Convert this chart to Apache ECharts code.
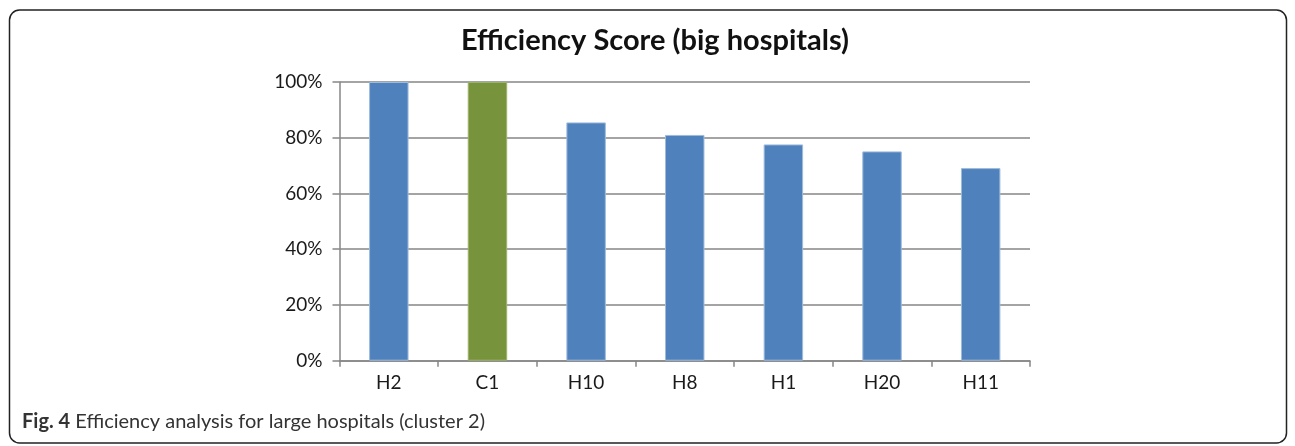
<!DOCTYPE html>
<html>
<head>
<meta charset="utf-8">
<script src="https://cdn.jsdelivr.net/npm/echarts@6/dist/echarts.min.js"></script>
<style>
  html, body { margin: 0; padding: 0; background: #fff; }
  #chart { width: 1295px; height: 446px; }
</style>
</head>
<body>
<div id="chart"></div>
<script>
const categories = ['H2', 'C1', 'H10', 'H8', 'H1', 'H20', 'H11']
const scores = [100, 100, 85.5, 81.0, 77.6, 75.1, 69.1]
const highlighted = ['C1']
const yTicks = [0, 20, 40, 60, 80, 100]

const colors = { bar: '#4f81bd', highlight: '#77933c', axis: '#868686', text: '#1a1a1a' }
const font = 'Lato'

const chart = echarts.init(document.getElementById('chart'))

chart.setOption({
  animation: false,
  title: {
    text: 'Efficiency Score (big hospitals)',
    left: 650,
    textAlign: 'center',
    top: 21,
    textStyle: { fontFamily: font, fontSize: 29, fontWeight: 'bold', color: '#111' }
  },
  grid: { left: 339.5, right: 265, top: 82, bottom: 85.3 },
  xAxis: {
    type: 'category',
    data: categories,
    axisLine: { lineStyle: { color: colors.axis, width: 1.5 } },
    axisTick: { show: true, length: 6, lineStyle: { color: colors.axis, width: 1.5 } },
    axisLabel: { margin: 13, color: colors.text, fontFamily: font, fontSize: 19 }
  },
  yAxis: {
    type: 'value',
    min: 0,
    max: 100,
    interval: 20,
    axisLine: { show: true, lineStyle: { color: colors.axis, width: 1.5 } },
    axisTick: { show: true, length: 7, lineStyle: { color: colors.axis, width: 1.5 } },
    splitLine: { lineStyle: { color: colors.axis, width: 1.5 } },
    axisLabel: {
      margin: 17,
      color: colors.text,
      fontFamily: font,
      fontSize: 19,
      formatter: v => yTicks.includes(v) ? v + '%' : ''
    }
  },
  series: [{
    type: 'bar',
    barWidth: '40%',
    data: scores.map((v, i) => ({
      value: v,
      itemStyle: {
        color: highlighted.includes(categories[i]) ? colors.highlight : colors.bar,
        borderColor: highlighted.includes(categories[i]) ? '#9db46c' : '#9fbbdc',
        borderWidth: 1
      }
    }))
  }],
  graphic: [
    {
      type: 'rect',
      shape: { x: 9.5, y: 10, width: 1277, height: 433, r: 10 },
      style: { fill: 'none', stroke: '#222', lineWidth: 1.5 },
      silent: true
    },
    {
      type: 'text',
      left: 22,
      top: 412,
      style: {
        text: '{b|Fig. 4} Efficiency analysis for large hospitals (cluster 2)',
        fontFamily: font,
        fontSize: 20,
        fill: '#333',
        rich: { b: { fontFamily: font, fontSize: 20, fontWeight: 'bold', fill: '#333' } }
      }
    }
  ]
})
</script>
</body>
</html>
